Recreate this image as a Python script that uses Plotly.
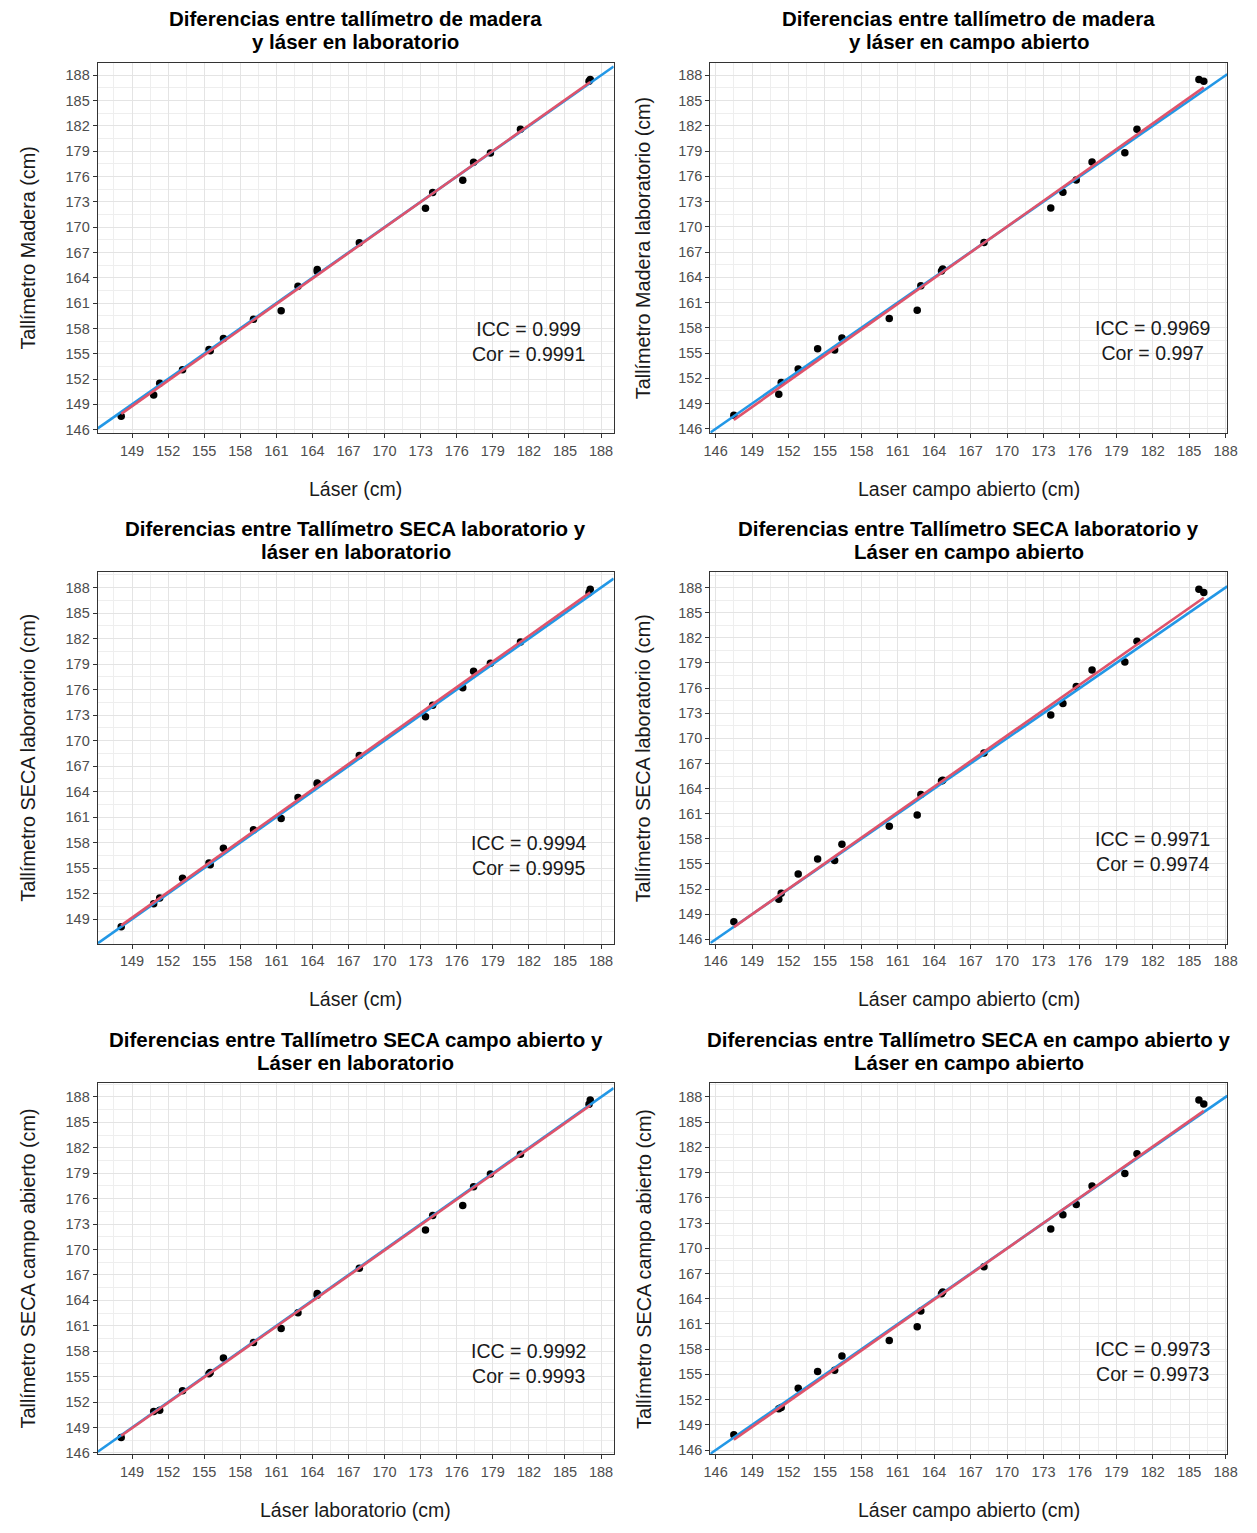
import numpy as np
import plotly.graph_objects as go

# ---- data (one value per subject) ----
laser_lab = [148.1, 150.8, 151.3, 153.2, 155.4, 155.5, 156.6, 159.1, 161.4, 162.8, 164.4,
             164.4, 167.9, 173.4, 174.0, 176.5, 177.4, 178.8, 181.3, 187.1, 187.0]
laser_campo = [147.5, 151.2, 151.4, 152.8, 154.4, 155.8, 156.4, 160.3, 162.6, 162.9, 164.7,
               164.6, 168.1, 173.6, 174.6, 175.7, 177.0, 179.7, 180.7, 185.8, 186.2]
madera = [147.6, 150.1, 151.5, 153.1, 155.5, 155.35, 156.8, 159.1, 160.1, 163.0, 165.0,
          164.75, 168.15, 172.25, 174.1, 175.55, 177.7, 178.8, 181.6, 187.5, 187.3]
seca_lab = [148.1, 150.8, 151.5, 153.8, 155.6, 155.4, 157.35, 159.5, 160.85, 163.3, 165.0,
            164.9, 168.25, 172.8, 174.15, 176.2, 178.15, 179.1, 181.6, 187.8, 187.4]
seca_campo = [147.83, 150.9, 151.05, 153.35, 155.35, 155.5, 157.2, 159.03, 160.67, 162.55, 164.8,
              164.6, 167.8, 172.3, 174.0, 175.2, 177.4, 178.9, 181.25, 187.65, 187.15]

titles = [
    ("Diferencias entre tallímetro de madera", "y láser en laboratorio"),
    ("Diferencias entre tallímetro de madera", "y láser en campo abierto"),
    ("Diferencias entre Tallímetro SECA laboratorio y", "láser en laboratorio"),
    ("Diferencias entre Tallímetro SECA laboratorio y", "Láser en campo abierto"),
    ("Diferencias entre Tallímetro SECA campo abierto y", "Láser en laboratorio"),
    ("Diferencias entre Tallímetro SECA en campo abierto y", "Láser en campo abierto"),
]
x_titles = ["Láser (cm)", "Laser campo abierto (cm)", "Láser (cm)",
            "Láser campo abierto (cm)", "Láser laboratorio (cm)", "Láser campo abierto (cm)"]
y_titles = ["Tallímetro Madera (cm)", "Tallímetro Madera laboratorio (cm)",
            "Tallímetro SECA laboratorio (cm)", "Tallímetro SECA laboratorio (cm)",
            "Tallímetro SECA campo abierto (cm)", "Tallímetro SECA campo abierto (cm)"]
icc_values = ["0.999", "0.9969", "0.9994", "0.9971", "0.9992", "0.9973"]
cor_values = ["0.9991", "0.997", "0.9995", "0.9974", "0.9993", "0.9973"]
x_series = [laser_lab, laser_campo, laser_lab, laser_campo, laser_lab, laser_campo]
y_series = [madera, madera, seca_lab, seca_lab, seca_campo, seca_campo]

# ---- layout geometry (pixels) ----
W, H = 1257, 1533
cols = [(92, 615), (713, 1237)]
rows = [(63, 435), (575, 948), (1088, 1461)]

FONT = "Liberation Sans, Arial, sans-serif"
BLUE = "#2297E6"
RED = "#DF536B"


def px_x(p):
    return p / W


def px_y(p):
    return 1 - p / H


def expand(vals):
    lo, hi = min(vals), max(vals)
    d = (hi - lo) * 0.05
    return [lo - d, hi + d]


fig = go.Figure()
annotations = []

for i in range(6):
    r, c = divmod(i, 2)
    xs = np.array(x_series[i])
    ys = np.array(y_series[i])
    xa = "x" if i == 0 else f"x{i+1}"
    ya = "y" if i == 0 else f"y{i+1}"
    xr = expand(list(xs))
    yr = expand(list(xs) + list(ys))

    fig.add_trace(go.Scatter(x=xs, y=ys, mode="markers", xaxis=xa, yaxis=ya,
                             marker=dict(color="black", size=7.5), showlegend=False,
                             hoverinfo="skip"))
    # identity line
    fig.add_trace(go.Scatter(x=xr, y=xr, mode="lines", xaxis=xa, yaxis=ya,
                             line=dict(color=BLUE, width=2.6), showlegend=False,
                             hoverinfo="skip"))
    # linear regression
    b, a = np.polyfit(xs, ys, 1)
    lx = np.array([xs.min(), xs.max()])
    fig.add_trace(go.Scatter(x=lx, y=a + b * lx, mode="lines", xaxis=xa, yaxis=ya,
                             line=dict(color=RED, width=2.6), showlegend=False,
                             hoverinfo="skip"))

    axis_common = dict(
        tick0=146, dtick=3, showgrid=True, gridcolor="#E4E4E4", gridwidth=1.1,
        minor=dict(tick0=146, dtick=1.5, showgrid=True, gridcolor="#EEEEEE", gridwidth=0.9, ticks=""),
        showline=True, linecolor="#333333", linewidth=1.2, mirror=True,
        ticks="outside", ticklen=4, tickwidth=1, tickcolor="#333333",
        tickfont=dict(family=FONT, size=14.5, color="#4D4D4D"),
        zeroline=False, fixedrange=True,
    )
    x0, x1 = cols[c]
    y0, y1 = rows[r]
    fig.layout[("xaxis" if i == 0 else f"xaxis{i+1}")] = dict(
        axis_common, domain=[px_x(x0), px_x(x1)], range=xr, anchor=ya)
    fig.layout[("yaxis" if i == 0 else f"yaxis{i+1}")] = dict(
        axis_common, domain=[px_y(y1), px_y(y0)], range=yr, anchor=xa)

    # panel title (two lines)
    for line_text, off in zip(titles[i], (44, 21)):
        annotations.append(dict(
            text="<b>" + line_text + "</b>",
            xref="paper", yref="paper", x=px_x((x0 + x1) / 2), y=px_y(y0 - off),
            xanchor="center", yanchor="middle", showarrow=False, align="center",
            font=dict(family=FONT, size=20.5, color="black")))
    # x axis title
    annotations.append(dict(
        text=x_titles[i], xref="paper", yref="paper",
        x=px_x((x0 + x1) / 2), y=px_y(y1 + 56), xanchor="center", yanchor="middle",
        showarrow=False, font=dict(family=FONT, size=19.5, color="#1A1A1A")))
    # y axis title
    annotations.append(dict(
        text=y_titles[i], xref="paper", yref="paper",
        x=px_x(21 if c == 0 else 645), y=px_y((y0 + y1) / 2), xanchor="center",
        yanchor="middle", textangle=-90,
        showarrow=False, font=dict(family=FONT, size=19.8, color="#1A1A1A")))
    # ICC / Cor text
    annotations.append(dict(
        text=f"ICC = {icc_values[i]}<br>Cor = {cor_values[i]}",
        xref=xa, yref=ya, x=182, y=156.5, xanchor="center", yanchor="middle",
        showarrow=False, align="center",
        font=dict(family=FONT, size=19.5, color="#1A1A1A")))

fig.update_layout(
    width=W, height=H, margin=dict(l=0, r=0, t=0, b=0),
    paper_bgcolor="white", plot_bgcolor="white",
    annotations=annotations, showlegend=False,
)

fig.write_html("out.html", config={"displayModeBar": False},
               post_script="document.body.style.margin='0';")
